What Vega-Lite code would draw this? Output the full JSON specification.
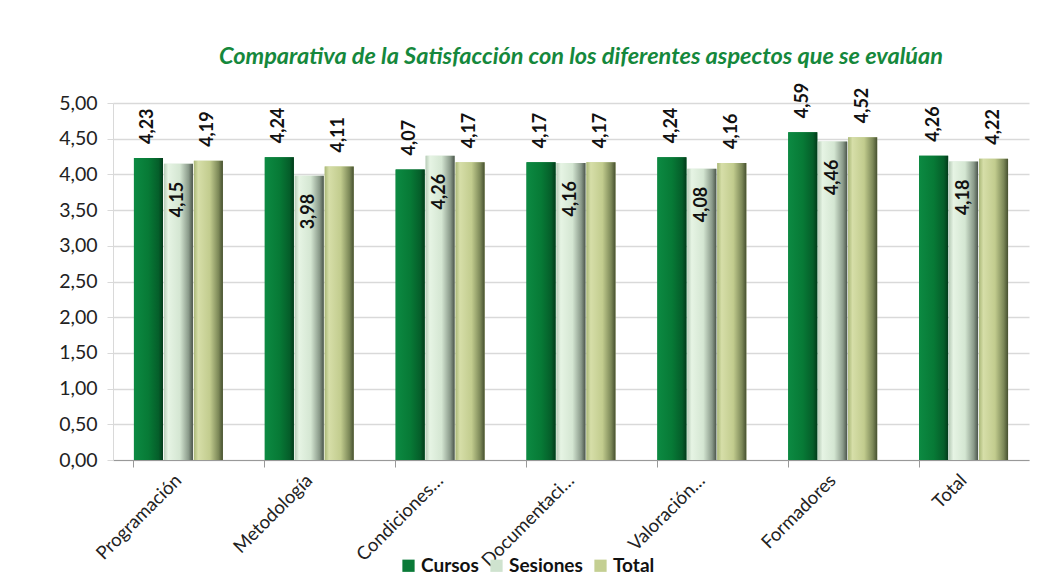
{
  "$schema": "https://vega.github.io/schema/vega-lite/v6.json",
  "width": 916,
  "height": 357,
  "autosize": "none",
  "padding": {"left": 113, "top": 103, "right": 33, "bottom": 120},
  "background": "white",
  "config": {
    "locale": {"number": {"decimal": ",", "thousands": ".", "grouping": [3], "currency": ["", " €"]}},
    "view": {"stroke": null},
    "font": "Lato"
  },
  "title": {
    "text": "Comparativa de la Satisfacción con los diferentes aspectos que se evalúan",
    "font": "Lato",
    "fontSize": 23.5,
    "fontStyle": "italic",
    "fontWeight": "bold",
    "color": "#15883c",
    "anchor": "middle",
    "offset": 14,
    "dx": 10
  },
  "data": {
    "values": [
      {"category": "Programación", "serie": "Cursos", "value": 4.23},
      {"category": "Programación", "serie": "Sesiones", "value": 4.15},
      {"category": "Programación", "serie": "Total", "value": 4.19},
      {"category": "Metodología", "serie": "Cursos", "value": 4.24},
      {"category": "Metodología", "serie": "Sesiones", "value": 3.98},
      {"category": "Metodología", "serie": "Total", "value": 4.11},
      {"category": "Condiciones…", "serie": "Cursos", "value": 4.07},
      {"category": "Condiciones…", "serie": "Sesiones", "value": 4.26},
      {"category": "Condiciones…", "serie": "Total", "value": 4.17},
      {"category": "Documentaci…", "serie": "Cursos", "value": 4.17},
      {"category": "Documentaci…", "serie": "Sesiones", "value": 4.16},
      {"category": "Documentaci…", "serie": "Total", "value": 4.17},
      {"category": "Valoración…", "serie": "Cursos", "value": 4.24},
      {"category": "Valoración…", "serie": "Sesiones", "value": 4.08},
      {"category": "Valoración…", "serie": "Total", "value": 4.16},
      {"category": "Formadores", "serie": "Cursos", "value": 4.59},
      {"category": "Formadores", "serie": "Sesiones", "value": 4.46},
      {"category": "Formadores", "serie": "Total", "value": 4.52},
      {"category": "Total", "serie": "Cursos", "value": 4.26},
      {"category": "Total", "serie": "Sesiones", "value": 4.18},
      {"category": "Total", "serie": "Total", "value": 4.22}
    ]
  },
  "encoding": {
    "x": {
      "field": "category",
      "type": "nominal",
      "sort": null,
      "title": null,
      "scale": {"paddingInner": 0.32, "paddingOuter": 0.16},
      "axis": {
        "labelAngle": -45,
        "labelAlign": "right",
        "labelBaseline": "middle",
        "labelFontSize": 18.5,
        "labelColor": "#222",
        "labelPadding": 10,
        "bandPosition": 0,
        "tickSize": 7,
        "tickColor": "#999",
        "domainColor": "#999",
        "grid": false
      }
    },
    "xOffset": {"field": "serie", "type": "nominal", "scale": {"paddingInner": 0.03}},
    "y": {
      "field": "value",
      "type": "quantitative",
      "title": null,
      "scale": {"domain": [0, 5], "nice": false},
      "axis": {
        "values": [0, 0.5, 1, 1.5, 2, 2.5, 3, 3.5, 4, 4.5, 5],
        "format": ".2f",
        "labelFontSize": 19.5,
        "labelColor": "#222",
        "labelPadding": 10,
        "tickSize": 6,
        "tickColor": "#d9d9d9",
        "domainColor": "#d9d9d9",
        "gridColor": "#d9d9d9",
        "gridWidth": 1.3
      }
    }
  },
  "layer": [
    {
      "mark": {"type": "bar"},
      "encoding": {
        "color": {
          "field": "serie",
          "type": "nominal",
          "title": null,
          "scale": {"domain": ["Cursos", "Sesiones", "Total"], "range": ["#0a7a38", "#cfe3cf", "#c4cf92"]},
          "legend": {
            "orient": "none",
            "legendX": 286,
            "legendY": 453,
            "direction": "horizontal",
            "symbolType": "square",
            "symbolSize": 150,
            "symbolStrokeWidth": 0,
            "labelFontSize": 19,
            "labelFontWeight": "bold",
            "labelColor": "#111",
            "labelOffset": 3,
            "columnPadding": 8
          }
        }
      }
    },
    {
      "transform": [{"filter": "datum.serie === 'Cursos'"}],
      "mark": {
        "type": "bar",
        "fill": {"gradient": "linear", "x1": 0, "x2": 1, "y1": 0, "y2": 0,
          "stops": [{"offset": 0, "color": "#0c8a42"}, {"offset": 0.5, "color": "#077a36"}, {"offset": 0.85, "color": "#055e2a"}, {"offset": 1, "color": "#033a1a"}]}
      }
    },
    {
      "transform": [{"filter": "datum.serie === 'Sesiones'"}],
      "mark": {
        "type": "bar",
        "fill": {"gradient": "linear", "x1": 0, "x2": 1, "y1": 0, "y2": 0,
          "stops": [{"offset": 0, "color": "#b8ccb8"}, {"offset": 0.15, "color": "#e6f4e4"}, {"offset": 0.55, "color": "#d4e6d2"}, {"offset": 0.85, "color": "#8a9a8a"}, {"offset": 1, "color": "#4a544a"}]}
      }
    },
    {
      "transform": [{"filter": "datum.serie === 'Total'"}],
      "mark": {
        "type": "bar",
        "fill": {"gradient": "linear", "x1": 0, "x2": 1, "y1": 0, "y2": 0,
          "stops": [{"offset": 0, "color": "#aab878"}, {"offset": 0.15, "color": "#d6dea8"}, {"offset": 0.55, "color": "#c2cc8e"}, {"offset": 0.85, "color": "#7c8858"}, {"offset": 1, "color": "#465030"}]}
      }
    },
    {
      "transform": [{"filter": "datum.serie !== 'Sesiones'"}],
      "mark": {"type": "text", "angle": 270, "align": "left", "baseline": "middle", "dx": 14, "fontSize": 18, "fontWeight": "bold", "color": "#111"},
      "encoding": {"text": {"field": "value", "type": "quantitative", "format": ".2f"}}
    },
    {
      "transform": [{"filter": "datum.serie === 'Sesiones'"}],
      "mark": {"type": "text", "angle": 270, "align": "right", "baseline": "middle", "dx": -18, "fontSize": 18, "fontWeight": "bold", "color": "#111"},
      "encoding": {"text": {"field": "value", "type": "quantitative", "format": ".2f"}}
    }
  ]
}
